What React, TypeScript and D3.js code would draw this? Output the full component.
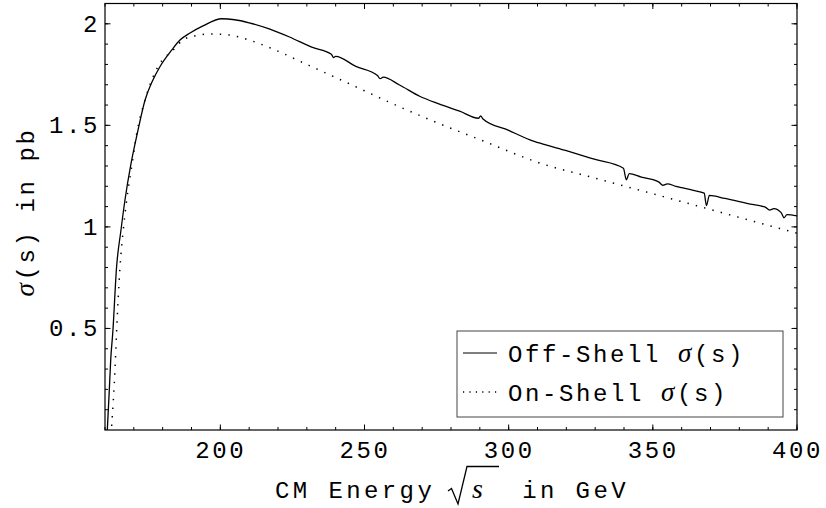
import React, { useEffect, useRef } from 'react';
import * as d3 from 'd3';

// CM energy (GeV) and cross-section (pb)
const offShellEnergy = [
  160.8, 161.5, 162.0, 162.7, 164.0, 165.5, 166.9, 169.0, 171.2, 173.9, 176.5, 179.1,
  183.1, 186.0, 189.5, 194.0, 200.5, 205.0, 210.0, 217.2, 224.0, 231.7, 238.5, 239.2,
  240.0, 247.0, 254.5, 255.4, 256.5, 262.0, 269.3, 276.0, 283.0, 289.5, 290.3, 291.0,
  300.0, 307.4, 310.9, 320.0, 330.0, 339.8, 340.8, 341.8, 346.0, 352.0, 353.5, 355.0,
  358.0, 360.0, 364.0, 367.8, 368.6, 369.6, 375.0, 383.0, 389.0, 390.5, 392.0, 394.5,
  395.5, 396.5, 400.0,
];
const offShellSigma = [
  0.0, 0.2, 0.35, 0.48, 0.8, 0.98, 1.13, 1.31, 1.46, 1.625, 1.72, 1.79,
  1.87, 1.92, 1.955, 1.99, 2.025, 2.02, 2.005, 1.974, 1.935, 1.885, 1.85, 1.834,
  1.84, 1.79, 1.745, 1.73, 1.737, 1.7, 1.642, 1.605, 1.57, 1.535, 1.547, 1.533,
  1.475, 1.429, 1.412, 1.375, 1.332, 1.289, 1.232, 1.262, 1.245, 1.222, 1.205, 1.212,
  1.2, 1.193, 1.18, 1.166, 1.105, 1.155, 1.14, 1.115, 1.097, 1.083, 1.09, 1.07,
  1.045, 1.06, 1.054,
];

const onShellEnergy = [
  162.3, 162.9, 163.5, 164.0, 165.2, 166.3, 167.5, 169.3, 171.0, 174.0, 178.4, 183.6,
  187.0, 191.0, 196.4, 203.0, 210.0, 218.4, 230.0, 245.0, 260.0, 275.0, 290.0, 310.9,
  330.0, 353.7, 375.0, 400.0,
];
const onShellSigma = [
  0.02, 0.148, 0.31, 0.478, 0.8, 0.98, 1.13, 1.3, 1.46, 1.63, 1.79, 1.87,
  1.92, 1.94, 1.95, 1.945, 1.92, 1.875, 1.8, 1.703, 1.605, 1.514, 1.43, 1.314,
  1.24, 1.149, 1.066, 0.969,
];

const xMajorTicks = [200, 250, 300, 350, 400];
const xMinorTicks = d3.range(160, 401, 10);
const yMajorTicks = [0.5, 1, 1.5, 2];
const yMinorTicks = d3.range(0.1, 2.1, 0.1);
const legendNames = ['Off-Shell', 'On-Shell'];

const W = 826;
const H = 508;
const FONT = "'Liberation Mono', 'Courier New', monospace";

const App = () => {
  const ref = useRef<SVGSVGElement>(null);

  useEffect(() => {
    const svg = d3.select(ref.current);
    svg.selectAll('*').remove();

    const left = 105;
    const right = 797;
    const top = 3.5;
    const bottom = 430;

    const x = d3.scaleLinear().domain([160, 400]).range([left, right]);
    const y = d3.scaleLinear().domain([0, 2.1]).range([bottom, top]);

    svg
      .append('defs')
      .append('clipPath')
      .attr('id', 'plot-clip')
      .append('rect')
      .attr('x', left)
      .attr('y', top)
      .attr('width', right - left)
      .attr('height', bottom - top);

    const line = d3
      .line<[number, number]>()
      .x((d) => x(d[0]))
      .y((d) => y(d[1]))
      .curve(d3.curveMonotoneX);

    const plot = svg.append('g').attr('clip-path', 'url(#plot-clip)');

    plot
      .append('path')
      .attr('d', line(onShellEnergy.map((e, i) => [e, onShellSigma[i]])))
      .attr('fill', 'none')
      .attr('stroke', '#000')
      .attr('stroke-width', 1.5)
      .attr('stroke-dasharray', '1.4 7.2');

    plot
      .append('path')
      .attr('d', line(offShellEnergy.map((e, i) => [e, offShellSigma[i]])))
      .attr('fill', 'none')
      .attr('stroke', '#000')
      .attr('stroke-width', 1.3);

    // frame
    svg
      .append('rect')
      .attr('x', left)
      .attr('y', top)
      .attr('width', right - left)
      .attr('height', bottom - top)
      .attr('fill', 'none')
      .attr('stroke', '#000')
      .attr('stroke-width', 1.2);

    const ticks = svg.append('g').attr('stroke', '#000').attr('stroke-width', 1);

    const xTick = (v: number, len: number) => {
      ticks.append('line').attr('x1', x(v)).attr('x2', x(v)).attr('y1', bottom).attr('y2', bottom - len);
      ticks.append('line').attr('x1', x(v)).attr('x2', x(v)).attr('y1', top).attr('y2', top + len);
    };
    const yTick = (v: number, len: number) => {
      ticks.append('line').attr('y1', y(v)).attr('y2', y(v)).attr('x1', left).attr('x2', left + len);
      ticks.append('line').attr('y1', y(v)).attr('y2', y(v)).attr('x1', right).attr('x2', right - len);
    };
    xMinorTicks.forEach((v) => xTick(v, 3));
    xMajorTicks.forEach((v) => xTick(v, 5.5));
    yMinorTicks.forEach((v) => yTick(v, 3));
    yMajorTicks.forEach((v) => yTick(v, 5.5));

    const labels = svg
      .append('g')
      .attr('font-family', FONT)
      .attr('font-size', 24)
      .attr('letter-spacing', 2.6)
      .attr('fill', '#000');

    xMajorTicks.forEach((v) => {
      labels
        .append('text')
        .attr('x', x(v) + 0.5)
        .attr('y', 458)
        .attr('text-anchor', 'middle')
        .text(String(v));
    });

    yMajorTicks.forEach((v) => {
      labels
        .append('text')
        .attr('x', 100)
        .attr('y', y(v) + 8)
        .attr('text-anchor', 'end')
        .text(String(v));
    });

    // x axis title: CM Energy √s in GeV
    labels
      .append('text')
      .attr('x', 275)
      .attr('y', 498)
      .attr('letter-spacing', 3.4)
      .text('CM Energy');
    labels
      .append('path')
      .attr('d', 'M448,491 L451.5,488.5 L458,504 L467,466.5 L499,466.5')
      .attr('fill', 'none')
      .attr('stroke', '#000')
      .attr('stroke-width', 1.3);
    labels
      .append('text')
      .attr('x', 472)
      .attr('y', 498)
      .attr('font-family', "'Liberation Serif', serif")
      .attr('font-style', 'italic')
      .attr('font-size', 28)
      .attr('letter-spacing', 0)
      .text('s');
    labels
      .append('text')
      .attr('x', 629)
      .attr('y', 498)
      .attr('text-anchor', 'end')
      .attr('letter-spacing', 3.4)
      .style('white-space', 'pre')
      .text('in GeV');

    // y axis title
    const yt = labels
      .append('text')
      .attr('transform', `translate(34,${212}) rotate(-90)`)
      .attr('text-anchor', 'middle')
      .style('white-space', 'pre');
    yt.append('tspan').attr('font-family', "'Liberation Serif', serif").attr('font-style', 'italic').attr('font-size', 27).text('\u03C3');
    yt.append('tspan').text('(s) in pb');

    // legend
    const lg = svg.append('g');
    lg.append('rect')
      .attr('x', 457)
      .attr('y', 331)
      .attr('width', 326)
      .attr('height', 86)
      .attr('fill', '#fff')
      .attr('stroke', '#444')
      .attr('stroke-width', 1);

    legendNames.forEach((name, i) => {
      const cy = 353 + i * 39;
      lg.append('line')
        .attr('x1', 463)
        .attr('x2', 497)
        .attr('y1', cy)
        .attr('y2', cy)
        .attr('stroke', '#000')
        .attr('stroke-width', i === 0 ? 1.2 : 1.3)
        .attr('stroke-dasharray', i === 0 ? null : '1.2 5.2');
      const t = lg
        .append('text')
        .attr('x', 508)
        .attr('y', cy + 9)
        .attr('font-family', FONT)
        .attr('font-size', 24)
        .attr('letter-spacing', 2.6)
        .style('white-space', 'pre');
      t.append('tspan').text(name + ' ');
      t.append('tspan').attr('font-family', "'Liberation Serif', serif").attr('font-style', 'italic').attr('font-size', 27).text('\u03C3');
      t.append('tspan').text('(s)');
    });
  }, []);

  return <svg ref={ref} width={W} height={H} style={{ position: 'absolute', left: 0, top: 0, background: '#fff' }} />;
};

export default App;
